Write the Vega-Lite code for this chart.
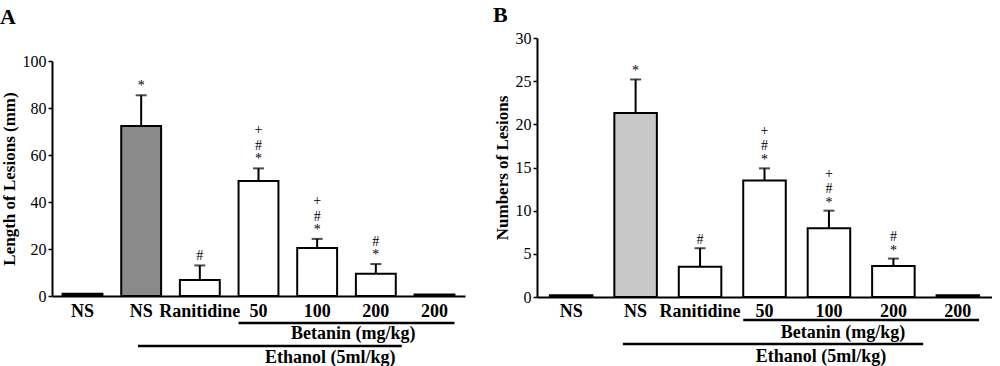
{
  "$schema": "https://vega.github.io/schema/vega-lite/v6.json",
  "padding": {"left": 0, "top": 4, "right": 0, "bottom": 0},
  "background": "white",
  "config": {
    "view": {"stroke": null},
    "font": "Liberation Serif",
    "axis": {"domainColor": "black", "tickColor": "black", "labelColor": "black", "titleColor": "black", "grid": false, "labelFont": "Liberation Serif", "titleFont": "Liberation Serif"},
    "title": {"font": "Liberation Serif", "fontSize": 22, "fontWeight": "bold", "anchor": "start", "color": "black"}
  },
  "resolve": {"scale": {"fill": "independent", "x": "independent", "y": "independent"}},
  "spacing": 28,
  "hconcat": [
    {
      "title": {"text": "A", "offset": 9},
      "spacing": 1,
      "vconcat": [
        {"width": 413, "height": 14, "data": {"values": []}, "mark": "point"},
        {
          "width": 413, "height": 235,
          "data": {"values": [
            {"k": "1 NS", "value": 1.0, "upper": null, "s1": "", "s2": "", "s3": "", "kind": "control"},
            {"k": "2 NS", "value": 72.3, "upper": 85.4, "s1": "*", "s2": "", "s3": "", "kind": "ethanol"},
            {"k": "3 Ranitidine", "value": 6.8, "upper": 13.0, "s1": "#", "s2": "", "s3": "", "kind": "treated"},
            {"k": "4 50", "value": 48.9, "upper": 54.3, "s1": "*", "s2": "#", "s3": "+", "kind": "treated"},
            {"k": "5 100", "value": 20.4, "upper": 24.3, "s1": "*", "s2": "#", "s3": "+", "kind": "treated"},
            {"k": "6 200", "value": 9.5, "upper": 13.6, "s1": "*", "s2": "#", "s3": "", "kind": "treated"},
            {"k": "7 200", "value": 0.6, "upper": null, "s1": "", "s2": "", "s3": "", "kind": "betanin"}
          ]},
          "encoding": {
            "x": {"field": "k", "type": "nominal", "sort": null,
              "scale": {"domain": ["1 NS", "2 NS", "3 Ranitidine", "4 50", "5 100", "6 200", "7 200"], "paddingInner": 0.32, "paddingOuter": 0.18},
              "axis": {"title": null, "labelExpr": "slice(datum.label, 2)", "ticks": false, "domainWidth": 2, "labelFontSize": 18, "labelFontWeight": "bold", "labelPadding": 6, "labelAngle": 0, "labelOverlap": false}}
          },
          "layer": [
            {
              "mark": {"type": "bar", "stroke": "black", "strokeWidth": 2},
              "encoding": {
                "y": {"field": "value", "type": "quantitative", "scale": {"domain": [0, 100]},
                  "axis": {"title": "Length of Lesions (mm)", "values": [0, 20, 40, 60, 80, 100], "tickSize": 4, "tickWidth": 1.5, "domainWidth": 2, "labelFontSize": 16, "labelPadding": 2, "titleFontSize": 17, "titleFontWeight": "bold", "titlePadding": 4}},
                "fill": {"field": "kind", "type": "nominal", "legend": null,
                  "scale": {"domain": ["control", "ethanol", "treated", "betanin"], "range": ["#000000", "#8a8a8a", "#ffffff", "#000000"]}}
              }
            },
            {
              "transform": [{"filter": "datum.upper != null"}],
              "mark": {"type": "rule", "strokeWidth": 2, "color": "black"},
              "encoding": {"y": {"field": "value", "type": "quantitative"}, "y2": {"field": "upper"}}
            },
            {
              "transform": [{"filter": "datum.upper != null"}],
              "mark": {"type": "tick", "orient": "horizontal", "size": 11, "thickness": 2, "color": "black"},
              "encoding": {"y": {"field": "upper", "type": "quantitative"}}
            },
            {
              "transform": [{"filter": "datum.s1 != ''"}],
              "mark": {"type": "text", "baseline": "bottom", "dy": -2, "fontSize": 14, "color": "black"},
              "encoding": {"y": {"field": "upper", "type": "quantitative"}, "text": {"field": "s1"}}
            },
            {
              "transform": [{"filter": "datum.s2 != ''"}],
              "mark": {"type": "text", "baseline": "bottom", "dy": -15, "fontSize": 14, "color": "black"},
              "encoding": {"y": {"field": "upper", "type": "quantitative"}, "text": {"field": "s2"}}
            },
            {
              "transform": [{"filter": "datum.s3 != ''"}],
              "mark": {"type": "text", "baseline": "bottom", "dy": -31, "fontSize": 14, "color": "black"},
              "encoding": {"y": {"field": "upper", "type": "quantitative"}, "text": {"field": "s3"}}
            }
          ]
        },
        {
          "width": 413, "height": 23,
          "data": {"values": [
            {"level": "Betanin", "label": "Betanin (mg/kg)", "from": "4 50", "to": "7 200", "at": "5 100"},
            {"level": "Ethanol", "label": "Ethanol (5ml/kg)", "from": "2 NS", "to": "6 200", "at": "5 100"}
          ]},
          "encoding": {
            "y": {"field": "level", "type": "nominal", "scale": {"type": "point", "padding": 0, "domain": ["Betanin", "Ethanol"]}, "axis": null}
          },
          "layer": [
            {
              "transform": [{"filter": "datum.level == 'Betanin'"}],
              "mark": {"type": "rule", "strokeWidth": 2.5, "color": "black"},
              "encoding": {
                "x": {"field": "from", "type": "nominal", "bandPosition": 0, "scale": {"domain": ["1 NS", "2 NS", "3 Ranitidine", "4 50", "5 100", "6 200", "7 200"], "paddingInner": 0.32, "paddingOuter": 0.18}, "axis": null},
                "x2": {"field": "to", "bandPosition": 1}
              }
            },
            {
              "transform": [{"filter": "datum.level == 'Ethanol'"}],
              "mark": {"type": "rule", "strokeWidth": 2.5, "color": "black"},
              "encoding": {
                "x": {"field": "from", "type": "nominal", "bandPosition": 0.42},
                "x2": {"field": "to", "bandPosition": 1.15}
              }
            },
            {
              "transform": [{"filter": "datum.level == 'Betanin'"}],
              "mark": {"type": "text", "dx": 36, "dy": 11, "baseline": "middle", "fontSize": 18, "fontWeight": "bold", "color": "black"},
              "encoding": {"x": {"field": "at", "type": "nominal"}, "text": {"field": "label"}}
            },
            {
              "transform": [{"filter": "datum.level == 'Ethanol'"}],
              "mark": {"type": "text", "dx": 13, "dy": 12, "baseline": "middle", "fontSize": 18, "fontWeight": "bold", "color": "black"},
              "encoding": {"x": {"field": "at", "type": "nominal"}, "text": {"field": "label"}}
            }
          ]
        }
      ]
    },
    {
      "title": {"text": "B", "offset": 3},
      "spacing": -3,
      "vconcat": [
        {
          "width": 455, "height": 259,
          "data": {"values": [
            {"k": "1 NS", "value": 0.2, "upper": null, "s1": "", "s2": "", "s3": "", "kind": "control"},
            {"k": "2 NS", "value": 21.3, "upper": 25.2, "s1": "*", "s2": "", "s3": "", "kind": "ethanol"},
            {"k": "3 Ranitidine", "value": 3.5, "upper": 5.65, "s1": "#", "s2": "", "s3": "", "kind": "treated"},
            {"k": "4 50", "value": 13.5, "upper": 14.9, "s1": "*", "s2": "#", "s3": "+", "kind": "treated"},
            {"k": "5 100", "value": 7.95, "upper": 10.0, "s1": "*", "s2": "#", "s3": "+", "kind": "treated"},
            {"k": "6 200", "value": 3.6, "upper": 4.45, "s1": "*", "s2": "#", "s3": "", "kind": "treated"},
            {"k": "7 200", "value": 0.2, "upper": null, "s1": "", "s2": "", "s3": "", "kind": "betanin"}
          ]},
          "encoding": {
            "x": {"field": "k", "type": "nominal", "sort": null,
              "scale": {"domain": ["1 NS", "2 NS", "3 Ranitidine", "4 50", "5 100", "6 200", "7 200"], "paddingInner": 0.34, "paddingOuter": 0.2},
              "axis": {"title": null, "labelExpr": "slice(datum.label, 2)", "ticks": false, "domainWidth": 2, "labelFontSize": 18, "labelFontWeight": "bold", "labelPadding": 5, "labelAngle": 0, "labelOverlap": false}}
          },
          "layer": [
            {
              "mark": {"type": "bar", "stroke": "black", "strokeWidth": 2},
              "encoding": {
                "y": {"field": "value", "type": "quantitative", "scale": {"domain": [0, 30]},
                  "axis": {"title": "Numbers of Lesions", "values": [0, 5, 10, 15, 20, 25, 30], "tickSize": 4, "tickWidth": 1.5, "domainWidth": 2, "labelFontSize": 16, "labelPadding": 2, "titleFontSize": 17, "titleFontWeight": "bold", "titlePadding": 4}},
                "fill": {"field": "kind", "type": "nominal", "legend": null,
                  "scale": {"domain": ["control", "ethanol", "treated", "betanin"], "range": ["#000000", "#c8c8c8", "#ffffff", "#000000"]}}
              }
            },
            {
              "transform": [{"filter": "datum.upper != null"}],
              "mark": {"type": "rule", "strokeWidth": 2, "color": "black"},
              "encoding": {"y": {"field": "value", "type": "quantitative"}, "y2": {"field": "upper"}}
            },
            {
              "transform": [{"filter": "datum.upper != null"}],
              "mark": {"type": "tick", "orient": "horizontal", "size": 11, "thickness": 2, "color": "black"},
              "encoding": {"y": {"field": "upper", "type": "quantitative"}}
            },
            {
              "transform": [{"filter": "datum.s1 != ''"}],
              "mark": {"type": "text", "baseline": "bottom", "dy": -1, "fontSize": 14, "color": "black"},
              "encoding": {"y": {"field": "upper", "type": "quantitative"}, "text": {"field": "s1"}}
            },
            {
              "transform": [{"filter": "datum.s2 != ''"}],
              "mark": {"type": "text", "baseline": "bottom", "dy": -15, "fontSize": 14, "color": "black"},
              "encoding": {"y": {"field": "upper", "type": "quantitative"}, "text": {"field": "s2"}}
            },
            {
              "transform": [{"filter": "datum.s3 != ''"}],
              "mark": {"type": "text", "baseline": "bottom", "dy": -30, "fontSize": 14, "color": "black"},
              "encoding": {"y": {"field": "upper", "type": "quantitative"}, "text": {"field": "s3"}}
            }
          ]
        },
        {
          "width": 455, "height": 24,
          "data": {"values": [
            {"level": "Betanin", "label": "Betanin (mg/kg)", "from": "4 50", "to": "7 200", "at": "5 100"},
            {"level": "Ethanol", "label": "Ethanol (5ml/kg)", "from": "2 NS", "to": "6 200", "at": "5 100"}
          ]},
          "encoding": {
            "y": {"field": "level", "type": "nominal", "scale": {"type": "point", "padding": 0, "domain": ["Betanin", "Ethanol"]}, "axis": null}
          },
          "layer": [
            {
              "transform": [{"filter": "datum.level == 'Betanin'"}],
              "mark": {"type": "rule", "strokeWidth": 2.5, "color": "black"},
              "encoding": {
                "x": {"field": "from", "type": "nominal", "bandPosition": 0, "scale": {"domain": ["1 NS", "2 NS", "3 Ranitidine", "4 50", "5 100", "6 200", "7 200"], "paddingInner": 0.34, "paddingOuter": 0.2}, "axis": null},
                "x2": {"field": "to", "bandPosition": 1}
              }
            },
            {
              "transform": [{"filter": "datum.level == 'Ethanol'"}],
              "mark": {"type": "rule", "strokeWidth": 2.5, "color": "black"},
              "encoding": {
                "x": {"field": "from", "type": "nominal", "bandPosition": 0.2},
                "x2": {"field": "to", "bandPosition": 1.2}
              }
            },
            {
              "transform": [{"filter": "datum.level == 'Betanin'"}],
              "mark": {"type": "text", "dx": 14, "dy": 13, "baseline": "middle", "fontSize": 18, "fontWeight": "bold", "color": "black"},
              "encoding": {"x": {"field": "at", "type": "nominal"}, "text": {"field": "label"}}
            },
            {
              "transform": [{"filter": "datum.level == 'Ethanol'"}],
              "mark": {"type": "text", "dx": -8, "dy": 13, "baseline": "middle", "fontSize": 18, "fontWeight": "bold", "color": "black"},
              "encoding": {"x": {"field": "at", "type": "nominal"}, "text": {"field": "label"}}
            }
          ]
        }
      ]
    }
  ]
}
